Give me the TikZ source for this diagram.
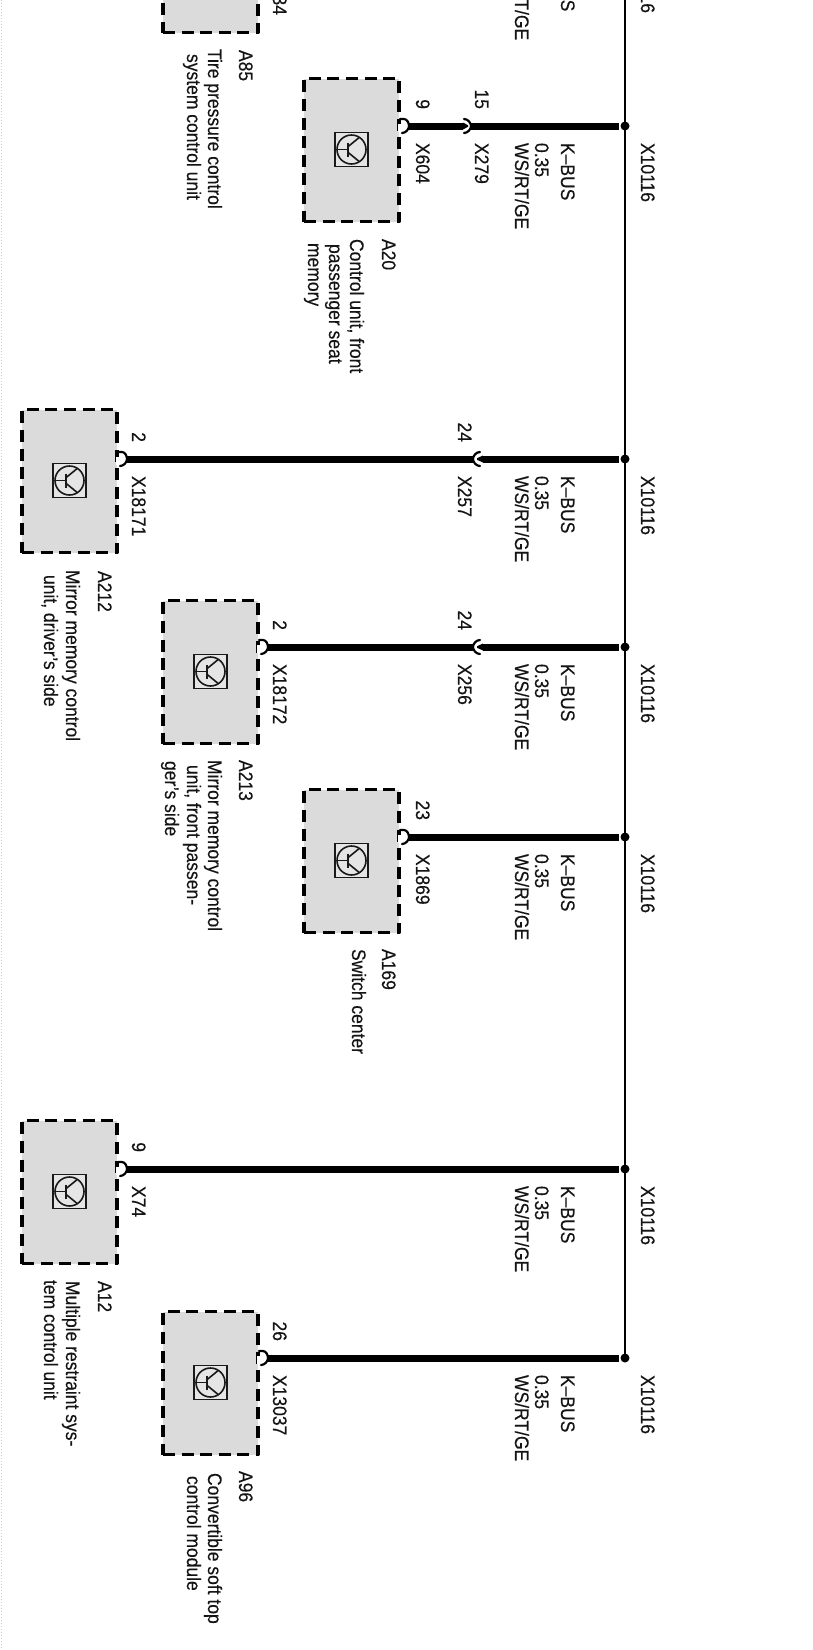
\documentclass[tikz,border=0pt]{standalone}
\usepackage{fontspec}
\setmainfont[FakeBold=0.3]{Liberation Sans}
\tikzset{
  lab/.style={anchor=base west,rotate=-90,yscale=1.12,inner sep=0pt,outer sep=0pt,font=\fontsize{17.5}{20}\selectfont,text=black!92},
  labr/.style={lab,anchor=base east},
  unitbox/.style={draw=black,fill=black!14,line width=3.6pt,dash pattern=on 12pt off 6.6pt,minimum width=95pt,minimum height=143pt,inner sep=0pt,outer sep=0pt,line cap=butt,line join=round},
  iconbox/.style={draw=black!90,line width=1.6pt,fill=black!10,minimum width=33pt,minimum height=34pt,inner sep=0pt},
  busline/.style={draw=black,line width=1.6pt},
  wire/.style={draw=black,line width=7pt},
  busdot/.style={circle,fill=black,minimum size=9pt,inner sep=0pt,outer sep=0pt},
  cup/.style={draw=black,line width=2.2pt,line cap=round},
  thin sym/.style={draw=black!90,line width=1.6pt}
}
% \branch{id}{box left}{box top}{wire y}{pin}{connector}{pin label x}
\newcommand{\branch}[7]{%
  \node[unitbox] (box#1) at (#2+48.5,#3+72) {};
  \node[iconbox] (icon#1) at (#2+48.5,#3+71.5) {};
  \node[circle,thin sym,minimum size=29pt,inner sep=0pt] (tr#1) at (icon#1.center) {};
  \draw[thin sym] (tr#1.west) -- ++(12,0) coordinate (base#1);
  \draw[thin sym] (base#1) ++(0,-7) -- ++(0,14);
  \draw[thin sym] (base#1) ++(0,-3) -- ++(11,-9);
  \draw[thin sym] (base#1) ++(0,3) -- ++(11,9);
  \coordinate (pin#1) at (#2+105,#4);
  \node[busdot] (bus#1) at (625,#4) {};
  \coordinate (wireend#1) at (618.5,#4);
  \draw[wire] (pin#1) -- (wireend#1);
  \fill[white] (#2+95,#4-2) rectangle (#2+104,#4+6);
  \draw[cup] (#2+97,#4-7) -- (#2+101,#4-7) .. controls (#2+104,#4-7) and (#2+106,#4-3) .. (#2+106,#4) .. controls (#2+106,#4+3) and (#2+103,#4+7) .. (#2+99,#4+7);
  \node[labr] (pinno#1) at (#7+1,#4-17) {#5};
  \node[lab] (conn#1) at (#7+1,#4+17) {#6};
  \node[lab] (x#1) at (641,#4+17) {X10116};
  \node[lab] (kb#1) at (561,#4+17) {K–BUS};
  \node[lab] (cs#1) at (535,#4+17) {0.35};
  \node[lab] (col#1) at (515,#4+17) {WS/RT/GE};
}
% connector opening towards the module side: \inlineleft{id}{apex x}{wire y}{pin}{connector}{label x}
\newcommand{\inlineleft}[6]{%
  \fill[white] (#2-8,#3-5) rectangle (#2-1,#3+5);
  \fill[black] (#2-8,#3-3.5) -- (#2-3,#3-.8) -- (#2-3,#3+.8) -- (#2-8,#3+3.5) -- cycle;
  \draw[cup] (#2-7,#3-7) .. controls (#2-3,#3-7) and (#2,#3-3) .. (#2,#3) .. controls (#2,#3+3) and (#2-3,#3+7) .. (#2-7,#3+7);
  \node[labr] (ipin#1) at (#6,#3-17) {#4};
  \node[lab] (iconn#1) at (#6,#3+17) {#5};
}
% connector opening towards the bus side
\newcommand{\inlineright}[6]{%
  \fill[white] (#2+1,#3-5) rectangle (#2+10,#3+5);
  \fill[black] (#2+10,#3-3.5) -- (#2+4,#3-.8) -- (#2+4,#3+.8) -- (#2+10,#3+3.5) -- cycle;
  \draw[cup] (#2+7,#3-7) .. controls (#2+3,#3-7) and (#2,#3-3) .. (#2,#3) .. controls (#2,#3+3) and (#2+3,#3+7) .. (#2+7,#3+7);
  \node[labr] (ipin#1) at (#6,#3-17) {#4};
  \node[lab] (iconn#1) at (#6,#3+17) {#5};
}
\newcommand{\lbl}[4]{\node[lab] (#1) at (#2,#3) {#4};}
\begin{document}
\begin{tikzpicture}[x=1pt,y=-1pt]
\path[use as bounding box,clip] (0,0) rectangle (813,1650);
\fill[white] (0,0) rectangle (813,1650);
\draw[black!20,line width=1pt,dotted] (1,0) -- (1,1650);
\coordinate (bustop) at (625,-5);
\branch{Aa}{162}{-111}{-63}{}{}{272}
\node[labr] (connAaEnd) at (273,15) {34};
\branch{Ab}{303}{78}{126}{9}{X604}{415}
\inlineleft{Ab}{471}{126}{15}{X279}{475}
\branch{Ac}{21}{409}{459}{2}{X18171}{131}
\inlineright{Ac}{473}{459}{24}{X257}{458}
\branch{Ad}{162}{600}{647}{2}{X18172}{272}
\inlineright{Ad}{473}{647}{24}{X256}{458}
\branch{Ae}{303}{789}{837}{23}{X1869}{415}
\branch{Af}{21}{1120}{1169}{9}{X74}{131}
\branch{Ag}{162}{1311}{1358}{26}{X13037}{272}
\draw[busline] (bustop) -- (busAg);
\lbl{nAa}{239}{50}{A85}
\lbl{lAa}{208}{49}{Tire pressure control}
\lbl{mAa}{187}{54}{system control unit}
\lbl{nAb}{382}{239}{A20}
\lbl{lAb}{350}{239}{Control unit, front}
\lbl{mAb}{329}{244}{passenger seat}
\lbl{oAb}{308}{243}{memory}
\lbl{nAc}{98}{571}{A212}
\lbl{lAc}{66}{570}{Mirror memory control}
\lbl{mAc}{44}{575}{unit, driver's side}
\lbl{nAd}{239}{760}{A213}
\lbl{lAd}{208}{760}{Mirror memory control}
\lbl{mAd}{187}{765}{unit, front passen-}
\lbl{oAd}{165}{761}{ger's side}
\lbl{nAe}{382}{949}{A169}
\lbl{lAe}{352}{949}{Switch center}
\lbl{nAf}{98}{1281}{A12}
\lbl{lAf}{66}{1281}{Multiple restraint sys-}
\lbl{mAf}{44}{1280}{tem control unit}
\lbl{nAg}{239}{1471}{A96}
\lbl{lAg}{208}{1473}{Convertible soft top}
\lbl{mAg}{187}{1476}{control module}
\end{tikzpicture}
\end{document}
